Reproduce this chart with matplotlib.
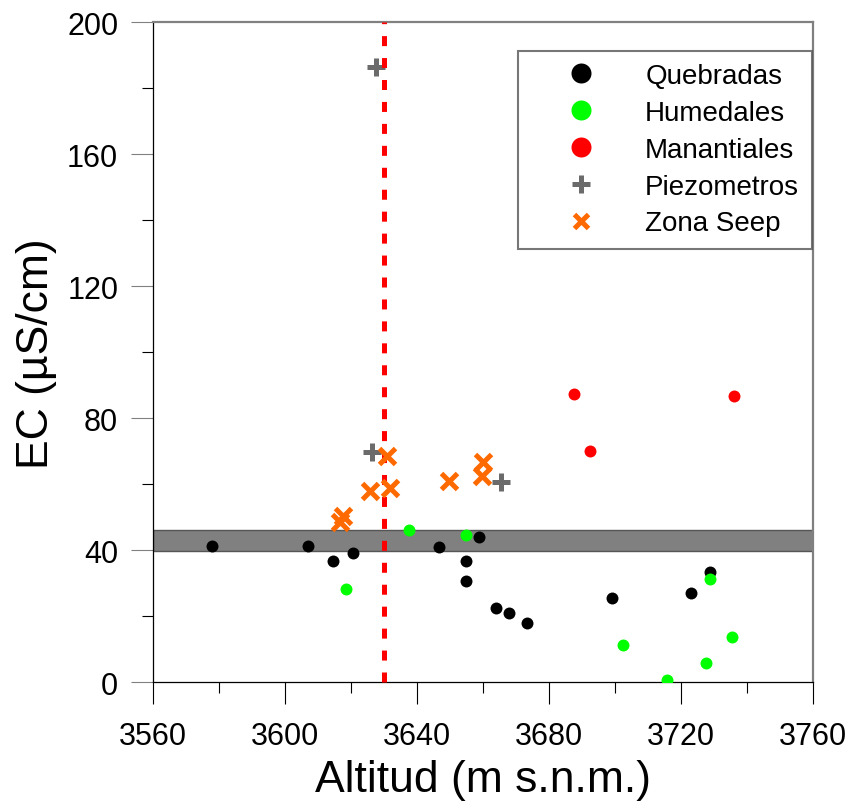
import matplotlib
matplotlib.use("Agg")
import matplotlib.pyplot as plt
from matplotlib.lines import Line2D

plt.rcParams['font.family'] = ['Liberation Sans', 'DejaVu Sans']
plt.rcParams['lines.scale_dashes'] = False

# ---- data ----
queb_x = [3577.9, 3607.2, 3614.7, 3620.8, 3646.9, 3654.8, 3654.8, 3659.0, 3664.0, 3668.0, 3673.3, 3699.1, 3723.0, 3728.9]
queb_y = [41.4, 41.4, 36.7, 39.2, 40.9, 36.7, 30.8, 44.1, 22.4, 21.1, 17.9, 25.5, 27.0, 33.4]

hum_x = [3618.7, 3637.8, 3654.8, 3702.6, 3716.0, 3727.7, 3728.9, 3735.5]
hum_y = [28.4, 46.1, 44.7, 11.4, 0.6, 5.8, 31.4, 13.8]

man_x = [3687.6, 3692.4, 3736.2]
man_y = [87.5, 70.1, 86.9]

piez_x = [3626.4, 3627.7, 3665.5]
piez_y = [69.9, 186.4, 60.8]

seep_x = [3616.8, 3617.8, 3625.8, 3631.1, 3631.9, 3649.9, 3659.7, 3660.2]
seep_y = [48.5, 50.5, 58.1, 68.5, 58.8, 60.9, 62.6, 66.7]

band_low, band_high = 39.7, 46.1
threshold_alt = 3630

labels = ["Quebradas", "Humedales", "Manantiales", "Piezometros", "Zona Seep"]
xticks = [3560, 3600, 3640, 3680, 3720, 3760]
yticks = [0, 40, 80, 120, 160, 200]

# ---- figure ----
fig = plt.figure(figsize=(8.53, 8.03), dpi=100)
ax = fig.add_axes([0.1790, 0.1491, 0.7737, 0.8219])

ax.axhspan(band_low, band_high, facecolor='#808080', edgecolor='#555555', linewidth=1.0, zorder=1)

dot_ms = 8.6
ax.plot(queb_x, queb_y, 'o', color='black', ms=dot_ms, mec='none', zorder=3)
ax.plot(hum_x, hum_y, 'o', color='#00ff00', ms=dot_ms, mec='none', zorder=3)
ax.plot(man_x, man_y, 'o', color='#ff0000', ms=dot_ms, mec='none', zorder=3)
ax.plot(piez_x, piez_y, '+', color='#6b6b6b', ms=13, mew=3.6, zorder=3)
ax.plot(seep_x, seep_y, 'x', color='#ff6a00', ms=12, mew=3.6, zorder=5)

ax.plot([threshold_alt, threshold_alt], [0, 200], color='#ff0000', lw=3.6,
        dashes=(7.2, 8.6), dash_capstyle='butt', zorder=4, clip_on=False)

ax.set_xlim(3560, 3760)
ax.set_ylim(0, 200)
ax.set_xticks(xticks)
ax.set_yticks(yticks)
ax.set_xticks(range(3580, 3760, 40), minor=True)
ax.set_yticks(range(20, 200, 40), minor=True)

ax.tick_params(which='major', direction='out', length=15.8, width=0.8, labelsize=22)
ax.tick_params(which='minor', direction='out', length=7.9, width=0.8)
ax.tick_params(axis='x', which='major', pad=12)
ax.tick_params(axis='y', which='major', pad=9, color='#808080')

for s in ['left', 'bottom']:
    ax.spines[s].set_color('black')
    ax.spines[s].set_linewidth(0.9)
for s in ['top', 'right']:
    ax.spines[s].set_color('#808080')
    ax.spines[s].set_linewidth(1.6)

ax.set_xlabel("Altitud (m s.n.m.)", fontsize=32, labelpad=6)
ax.set_ylabel("EC (µS/cm)", fontsize=32, labelpad=7)

handles = [
    Line2D([], [], ls='none', marker='o', color='black', ms=14.4, mec='none'),
    Line2D([], [], ls='none', marker='o', color='#00ff00', ms=14.4, mec='none'),
    Line2D([], [], ls='none', marker='o', color='#ff0000', ms=14.4, mec='none'),
    Line2D([], [], ls='none', marker='+', color='#6b6b6b', ms=13, mew=3.6),
    Line2D([], [], ls='none', marker='x', color='#ff6a00', ms=10.5, mew=3.6),
]
leg = ax.legend(handles, labels, loc='upper right', bbox_to_anchor=(0.9985, 0.957),
                borderaxespad=0, fontsize=20, frameon=True, fancybox=False,
                handlelength=3.63, handletextpad=0.49, labelspacing=0.39, borderpad=0.45)
leg.get_frame().set_edgecolor('#555555')
leg.get_frame().set_linewidth(1.5)

fig.savefig("out.png", dpi=100)
